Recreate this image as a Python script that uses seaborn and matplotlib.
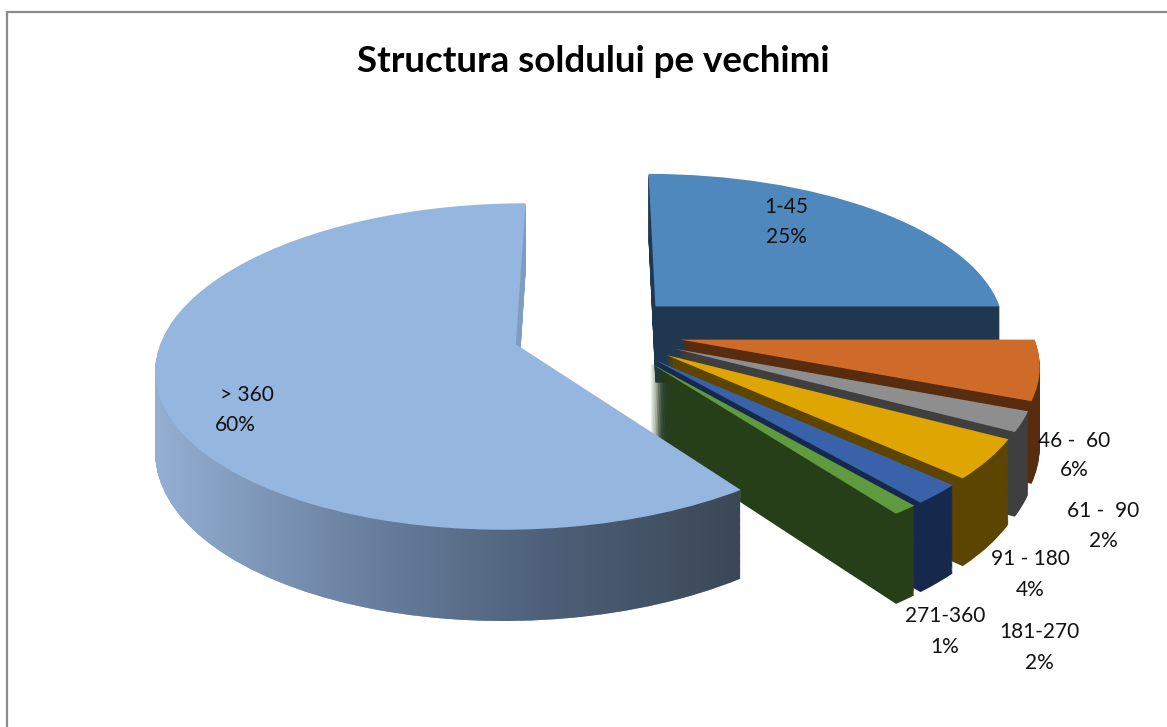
import numpy as np
import matplotlib
matplotlib.use("Agg")
import matplotlib.pyplot as plt
import seaborn as sns
from matplotlib.colors import LinearSegmentedColormap
from matplotlib.path import Path
from matplotlib.transforms import Transform

# date
categories = ["1-45", "46 -  60", "61 -  90", "91 - 180", "181-270", "271-360", "> 360"]
values = [25, 6, 2, 4, 2, 1, 60]
top_colors = ["#4F88BD", "#CF6B28", "#8E8E8E", "#DFA500", "#3A62AB", "#5F9A3E", "#95B6DE"]
wall_colors = ["#20384F", "#582C0F", "#3F3F3F", "#5C4500", "#16294D", "#273F19", "#7E9DC0"]
explode = [0.24] * 7

title = "Structura soldului pe vechimi"
label_name_pos = [(786, 207), (1074, 441), (1103, 511), (1030, 559), (1039, 632), (945, 616), (247, 395)]
label_pct_pos = [(786, 237), (1074, 470), (1103, 541), (1030, 590), (1039, 663), (945, 647), (235, 425)]

# geometrie
CX, CY = 597, 332.5
RX, RY = 352, 157
K = 0.135
DEPTH = 78
FONT = "Lato"


class Perspective(Transform):
    input_dims = 2
    output_dims = 2

    def __init__(self, z=0):
        super().__init__()
        self.z = z

    def transform_non_affine(self, xy):
        xy = np.asarray(xy, dtype=float)
        w = 1 + K * xy[:, 1]
        return np.column_stack([CX + RX * xy[:, 0] / w, CY + (self.z - RY * xy[:, 1]) / w])

    def transform_affine(self, values):
        return values

    def inverted(self):
        raise NotImplementedError


def draw_pie(z, colors=None, width=None):
    props = {"linewidth": 0}
    if width is not None:
        props["width"] = width
    wedges, _ = ax.pie(values, explode=explode, colors=colors, startangle=90,
                       counterclock=False, radius=1, wedgeprops=props)
    for wedge in wedges:
        wedge.set_transform(Perspective(z) + ax.transData)
    return wedges


sns.set_theme(style="white")
plt.rcParams["font.family"] = [FONT, "DejaVu Sans"]

fig = plt.figure(figsize=(11.67, 7.27), dpi=100)
ax = fig.add_axes([0, 0, 1, 1])

# peretii feliilor, strat cu strat, apoi fata de sus
rim_paths = []
for z in np.arange(DEPTH, 0, -1.0):
    layer = draw_pie(z, colors=wall_colors)
    for i, wedge in enumerate(layer):
        wedge.set_zorder(10 * i + 1)
    ring = draw_pie(z, colors=wall_colors, width=0.05)
    rim_paths.append(Perspective(z).transform_path(ring[6].get_path()))
    for wedge in ring:
        wedge.remove()

tops = draw_pie(0, colors=top_colors)
for i, wedge in enumerate(tops):
    wedge.set_zorder(10 * i + 5)

# gradient pe peretele exterior al feliei mari
wall_cmap = LinearSegmentedColormap.from_list("wall", ["#93AFD2", "#6C83A3", "#4E6079", "#3B4856"])
gradient = np.linspace(0, 1, 256).reshape(1, -1)
image = ax.imshow(gradient, cmap=wall_cmap, extent=(155, 740, 640, 350), aspect="auto", zorder=63)
image.set_clip_path(Path.make_compound_path(*rim_paths), ax.transData)

ax.set_aspect("auto")
ax.set_xlim(0, 1167)
ax.set_ylim(727, 0)
ax.axis("off")

# chenarul graficului
ax.plot([7, 7, 1167], [727, 12, 12], color="#8C8C8C", lw=1.6, zorder=100, solid_joinstyle="miter")

ax.text(593, 62, title, fontsize=26.5, fontweight="bold", color="black", ha="center", va="center", zorder=110)
for name, value, p1, p2 in zip(categories, values, label_name_pos, label_pct_pos):
    ax.text(p1[0], p1[1], name, fontsize=15, color="#111111", ha="center", va="center", zorder=110)
    ax.text(p2[0], p2[1], f"{value}%", fontsize=15, color="#111111", ha="center", va="center", zorder=110)

fig.savefig("out.png", dpi=100)
